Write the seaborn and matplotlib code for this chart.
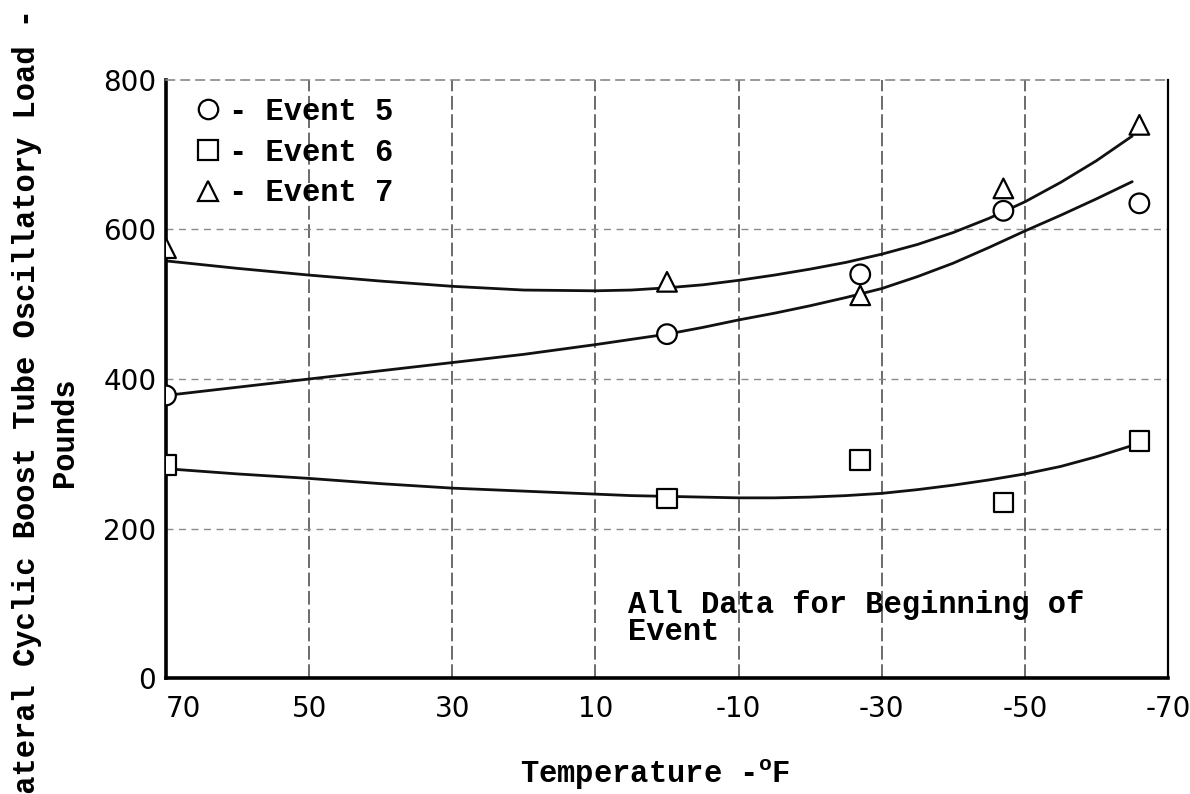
import matplotlib
matplotlib.use("Agg")
import matplotlib.pyplot as plt
import seaborn as sns
import pandas as pd
from matplotlib.lines import Line2D

# ---- data ----
events = ["Event 5", "Event 6", "Event 7"]
point_temps = [70, 0, -27, -47, -66]
event5_pts = [378, 460, 540, 625, 635]
event6_pts = [285, 240, 292, 235, 317]
event7_pts = [575, 530, 512, 655, 740]

curve_temps = [70, 60, 50, 40, 30, 20, 10, 5, 0, -5, -10, -15, -20, -25, -30,
               -35, -40, -45, -50, -55, -60, -65]
curve5 = [378, 389, 400, 411, 422, 433, 446, 453, 460, 469, 479, 488, 498, 509, 521,
          537, 555, 576, 598, 619, 641, 664]
curve6 = [280, 273, 267, 260, 254, 250, 246, 244, 243, 242, 241, 241, 242, 244, 247,
          252, 258, 265, 273, 283, 296, 311]
curve7 = [558, 548, 539, 531, 524, 519, 518, 519, 522, 526, 532, 539, 547, 556, 567,
          580, 596, 615, 637, 663, 692, 725]

x_ticks = [70, 50, 30, 10, -10, -30, -50, -70]
x_tick_labels = ["70", "50", "30", "10", "-10", "-30", "-50", "-70"]
y_ticks = [0, 200, 400, 600, 800]
y_tick_labels = ["0", "200", "400", "600", "800"]

pts = pd.DataFrame({
    "temp": point_temps * 3,
    "load": event5_pts + event6_pts + event7_pts,
    "event": [e for e in events for _ in point_temps],
})
curves = pd.DataFrame({
    "temp": curve_temps * 3,
    "load": curve5 + curve6 + curve7,
    "event": [e for e in events for _ in curve_temps],
})

sns.set_style("white")
plt.rcParams["font.family"] = ["Liberation Mono", "DejaVu Sans"]
plt.rcParams["font.weight"] = "bold"
plt.rcParams["axes.labelweight"] = "bold"
plt.rcParams["text.color"] = "black"
plt.rcParams["axes.labelcolor"] = "black"
plt.rcParams["xtick.color"] = "black"
plt.rcParams["ytick.color"] = "black"

fig = plt.figure(figsize=(11.9, 7.94), dpi=100)
ax = fig.add_axes([166 / 1190, 1 - 678 / 794, (1168 - 166) / 1190, (678 - 80) / 794])

# grid
for xv in x_ticks[1:-1]:
    ax.axvline(xv, color="#444444", lw=1.1, ls=(0, (9, 3)), zorder=0.5)
for yv in y_ticks[1:-1]:
    ax.axhline(yv, color="#8a8a8a", lw=1.0, ls=(0, (5, 4)), zorder=0.5)

sns.lineplot(data=curves, x="temp", y="load", hue="event",
             palette=["#111111"] * 3, sort=False, estimator=None,
             lw=2.0, legend=False, ax=ax, zorder=2)

markers = {"Event 5": "o", "Event 6": "s", "Event 7": "^"}
sns.scatterplot(data=pts, x="temp", y="load", style="event", markers=markers,
                color="white", edgecolor="black", linewidth=1.6, s=200,
                legend=False, ax=ax, zorder=3)

ax.set_xlim(70, -70)
ax.set_ylim(0, 800)
ax.set_xticks(x_ticks)
ax.set_xticklabels(x_tick_labels, fontfamily="DejaVu Sans", fontweight="normal", fontsize=20)
ax.set_yticks(y_ticks)
ax.set_yticklabels(y_tick_labels, fontfamily="DejaVu Sans", fontweight="normal", fontsize=20)
ax.tick_params(axis="x", length=0, pad=12)
ax.tick_params(axis="y", length=0, pad=7)
ax.get_xticklabels()[0].set_horizontalalignment("left")

for side in ["left", "bottom"]:
    ax.spines[side].set_linewidth(2.6)
    ax.spines[side].set_color("black")
ax.spines["right"].set_linewidth(1.6)
ax.spines["right"].set_color("black")
ax.spines["top"].set_linewidth(1.2)
ax.spines["top"].set_color("#888888")
ax.spines["top"].set_linestyle((0, (5, 4)))

ax.set_xlabel(r"Temperature -$^{\mathregular{o}}$F", fontsize=22, fontweight="bold")
ax.xaxis.set_label_coords((655 - 166) / 1002, (678 - 757) / 598)
ax.set_ylabel("Lateral Cyclic Boost Tube Oscillatory Load -", fontweight="bold",
              fontsize=22, ha="center", va="center", rotation_mode="default")
ax.yaxis.set_label_coords((27 - 166) / 1002, (678 - 410) / 598)
ax.text((65 - 166) / 1002, (678 - 432) / 598, "Pounds", transform=ax.transAxes,
        fontsize=22, rotation=90, ha="center", va="center")

ax.text(5.5, 118, "All Data for Beginning of\nEvent", fontsize=22,
        ha="left", va="top", linespacing=0.9, zorder=4)

handles = [Line2D([], [], marker=markers[e], ls="none", markersize=14,
                  markerfacecolor="white", markeredgecolor="black",
                  markeredgewidth=1.6) for e in events]
leg = ax.legend(handles, ["- " + e for e in events], loc="upper left",
                bbox_to_anchor=(197 / 1190, 1 - 97 / 794),
                bbox_transform=fig.transFigure, frameon=False, fontsize=22,
                handlelength=0.7, handletextpad=0.35, labelspacing=0.35,
                borderpad=0, borderaxespad=0)

fig.savefig("out.png", dpi=100)
